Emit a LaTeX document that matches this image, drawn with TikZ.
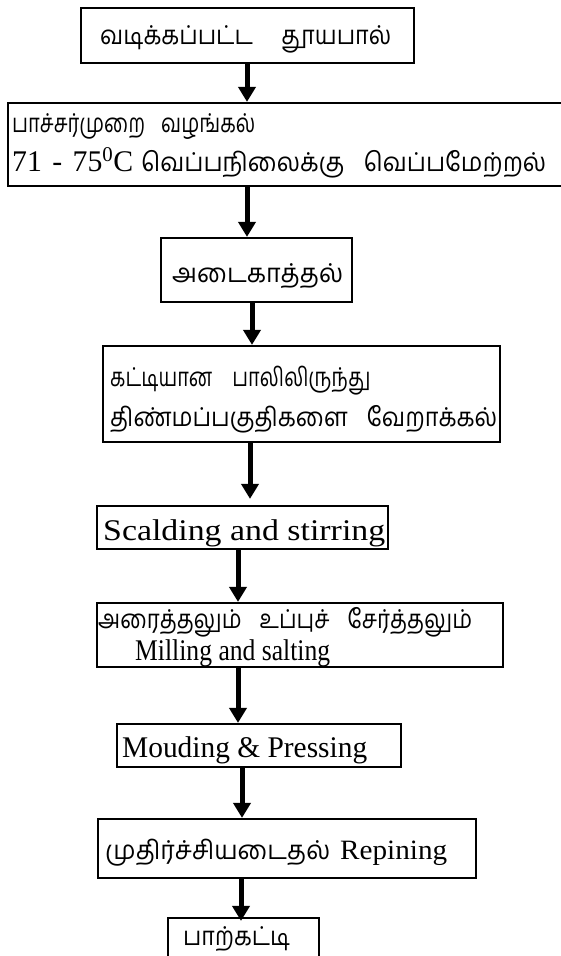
\documentclass[tikz,border=0pt]{standalone}
\usepackage{fontspec}
\setmainfont{Liberation Serif}
\newfontfamily\tamil[Script=Tamil]{Hind Madurai}
\usetikzlibrary{arrows.meta}
\newcommand\fitw[2]{\resizebox{#1}{\height}{#2}}
\newcommand\ta{\tamil\fontsize{26}{30}\selectfont}
\newcommand\en{\rmfamily\fontsize{30}{34}\selectfont}
\begin{document}
\begin{tikzpicture}[x=1pt,y=-1pt,
  box/.style={draw,line width=2.2pt,inner sep=0pt,minimum width=#1},
  lbl/.style={inner sep=0pt,anchor=base west},
  arr/.style={line width=5pt,-{Triangle[width=17pt,length=15pt]}}]
\useasboundingbox (0,0) rectangle (560,956);
% boxes
\node[box=333pt,minimum height=55pt] (b1) at (247.5,35.5) {};
\node[box=557pt,minimum height=83pt] (b2) at (286.5,144.5) {};
\node[box=191pt,minimum height=64pt] (b3) at (256.5,270) {};
\node[box=397pt,minimum height=96pt] (b4) at (301.5,394) {};
\node[box=291pt,minimum height=43pt] (b5) at (242.5,527.5) {};
\node[box=406pt,minimum height=64pt] (b6) at (300,635) {};
\node[box=284pt,minimum height=43pt] (b7) at (259,745.5) {};
\node[box=378pt,minimum height=59pt] (b8) at (287,848.5) {};
\node[box=151pt,minimum height=57pt] (b9) at (243.5,946.5) {};
% texts
\node[lbl] (t1) at (100,44) {\fitw{291pt}{\ta வடிக்கப்பட்ட\hspace{1.2em}தூயபால்}};
\node[lbl] (t2a) at (12,132) {\fitw{243pt}{\ta பாச்சர்முறை\hspace{0.8em}வழங்கல்}};
\node[lbl] (t2b) at (12,171) {\fitw{121pt}{\en 71\hspace{0.35em}-\hspace{0.35em}75\textsuperscript{0}C}};
\node[lbl] (t2c) at (141,171) {\fitw{405pt}{\ta வெப்பநிலைக்கு\hspace{0.8em}வெப்பமேற்றல்}};
\node[lbl] (t3) at (172,282) {\fitw{171pt}{\ta அடைகாத்தல்}};
\node[lbl] (t4a) at (110,386) {\fitw{260pt}{\ta கட்டியான\hspace{1em}பாலிலிருந்து}};
\node[lbl] (t4b) at (110,426) {\fitw{387pt}{\ta திண்மப்பகுதிகளை\hspace{0.8em}வேறாக்கல்}};
\node[lbl] (t5) at (103,540) {\fitw{282pt}{\en Scalding and stirring}};
\node[lbl] (t6a) at (98,628) {\fitw{374pt}{\ta அரைத்தலும்\hspace{0.8em}உப்புச்\hspace{0.8em}சேர்த்தலும்}};
\node[lbl] (t6b) at (135,660) {\fitw{195pt}{\en Milling and salting}};
\node[lbl] (t7) at (122,757) {\fitw{245pt}{\en Mouding \& Pressing}};
\node[lbl] (t8a) at (105,859) {\fitw{225pt}{\ta முதிர்ச்சியடைதல்}};
\node[lbl] (t8b) at (340,859) {\fitw{107pt}{\en\fontsize{28}{30}\selectfont Repining}};
\node[lbl] (t9) at (183,945) {\fitw{107pt}{\ta பாற்கட்டி}};
% arrows
\draw[arr] (b1.south -| 247,0) -- (b2.north -| 247,0);
\draw[arr] (b2.south -| 247,0) -- (b3.north -| 247,0);
\draw[arr] (b3.south -| 252,0) -- (b4.north -| 252,0);
\draw[arr] (b4.south -| 250,0) -- ([yshift=6pt]b5.north -| 250,0);
\draw[arr] (b5.south -| 238,0) -- (b6.north -| 238,0);
\draw[arr] (b6.south -| 238,0) -- (b7.north -| 238,0);
\draw[arr] (b7.south -| 242,0) -- (b8.north -| 242,0);
\draw[arr] (b8.south -| 241,0) -- ([yshift=-4pt]b9.north -| 241,0);
\end{tikzpicture}
\end{document}
